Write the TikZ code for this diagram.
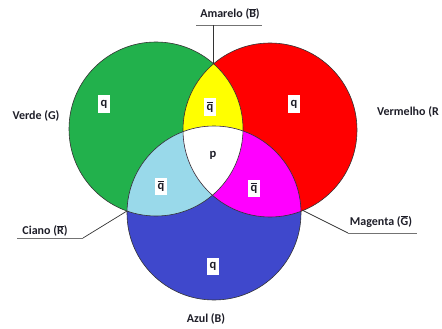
\documentclass[tikz,border=0pt]{standalone}
\usepackage{fontspec}
\setmainfont{Carlito}
\newcommand{\ovl}[1]{$\overline{\mbox{#1}}$}
\definecolor{cgreen}{HTML}{22B14C}
\definecolor{cred}{HTML}{FF0000}
\definecolor{cblue}{HTML}{3F48CC}
\definecolor{cyellow}{HTML}{FFFF00}
\definecolor{ccyan}{HTML}{99D9EA}
\definecolor{cmag}{HTML}{FF00FF}
\definecolor{ctext}{HTML}{1E1E28}
\tikzset{
  lbl/.style={font=\fontsize{12}{14}\selectfont\bfseries, text=ctext, inner sep=0pt},
  qbox/.style={fill=white, font=\fontsize{12.5}{14}\selectfont\bfseries, text=ctext, inner sep=1pt, minimum width=12pt, minimum height=17pt},
  lead/.style={draw=black!55, line width=0.9pt},
  leaddark/.style={draw=black!80, line width=0.7pt},
  rim/.style={draw=black!80, line width=0.6pt}
}
\begin{document}
\begin{tikzpicture}[x=1pt,y=-1pt]
\useasboundingbox (0,0) rectangle (442,329);
\coordinate (G) at (156,129);
\coordinate (R) at (270,130);
\coordinate (B) at (214,213);
\def\rr{87}
% base fills
\fill[cgreen] (G) circle[radius=\rr];
\fill[cred] (R) circle[radius=\rr];
\fill[cblue] (B) circle[radius=\rr];
% pairwise intersections
\begin{scope}
  \clip (G) circle[radius=\rr];
  \fill[cyellow] (R) circle[radius=\rr];
  \fill[ccyan] (B) circle[radius=\rr];
\end{scope}
\begin{scope}
  \clip (R) circle[radius=\rr];
  \fill[cmag] (B) circle[radius=\rr];
  \clip (G) circle[radius=\rr];
  \fill[white] (B) circle[radius=\rr];
\end{scope}
% outlines
\draw[rim] (G) circle[radius=\rr];
\draw[rim] (R) circle[radius=\rr];
\draw[rim] (B) circle[radius=\rr];
% region labels
\node[qbox] (qg) at (104,104) {q};
\node[qbox] (qr) at (294,104) {q};
\node[qbox] (qy) at (210,107) {\ovl{q}};
\node[qbox] (qc) at (161,186) {\ovl{q}};
\node[qbox] (qm) at (254,188) {\ovl{q}};
\node[qbox] (qp) at (213,155) {p};
\node[qbox] (qb) at (213,266) {q};
% outer labels
\node[lbl] (amarelo) at (230,14) {Amarelo (\ovl{B})};
\node[lbl] (verde) at (36,116) {Verde (G)};
\node[lbl, anchor=west] (vermelho) at (377,112) {Vermelho (R};
\node[lbl] (ciano) at (45,231) {Ciano (\ovl{R})};
\node[lbl] (magenta) at (381,222) {Magenta (\ovl{G})};
\node[lbl] (azul) at (206,319) {Azul (B)};
% leader lines
\coordinate (a1) at (196,25);
\coordinate (a2) at (262,25);
\coordinate (a3) at (213,25);
\coordinate (ytop) at (213,64);
\draw[lead] (a1) -- (a2);
\draw[leaddark] (a3) -- (ytop);
\coordinate (c1) at (17,238);
\coordinate (c2) at (83,238);
\coordinate (cgb) at (127,211);
\draw[lead] (c1) -- (c2);
\draw[leaddark] (c2) -- (cgb);
\coordinate (mrb) at (302,210);
\coordinate (m1) at (348,233);
\coordinate (m2) at (417,233);
\draw[leaddark] (mrb) -- (m1);
\draw[lead] (m1) -- (m2);
\end{tikzpicture}
\end{document}
